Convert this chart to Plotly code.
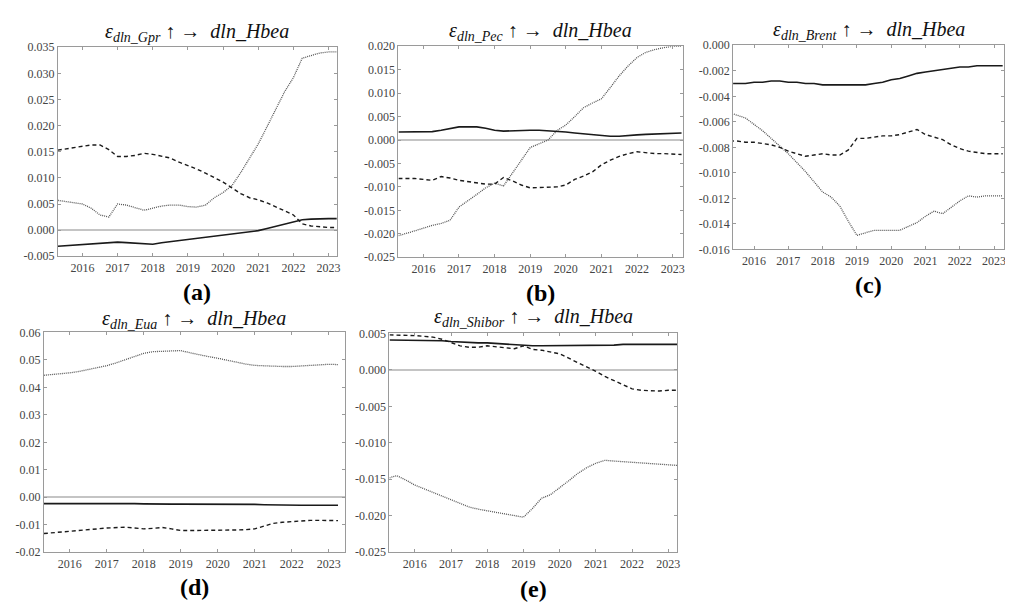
import plotly.graph_objects as go

# ---------------- data ----------------
t = [2015.3, 2015.5, 2015.75, 2016.0, 2016.25, 2016.5, 2016.75, 2017.0, 2017.25, 2017.5, 2017.75,
     2018.0, 2018.25, 2018.5, 2018.75, 2019.0, 2019.25, 2019.5, 2019.75, 2020.0, 2020.25, 2020.5,
     2020.75, 2021.0, 2021.25, 2021.5, 2021.75, 2022.0, 2022.25, 2022.5, 2022.75, 2023.0, 2023.25]

years = [2016, 2017, 2018, 2019, 2020, 2021, 2022, 2023]

# (a) Gpr
a_solid = [-0.0031, -0.0030, -0.0029, -0.0028, -0.0026, -0.0025, -0.0024, -0.0023, -0.0024, -0.0025, -0.0027,
           -0.0027, -0.0024, -0.0022, -0.0020, -0.0018, -0.0015, -0.0013, -0.0011, -0.0009, -0.0007, -0.0005,
           -0.0003, -0.0001, 0.0003, 0.0007, 0.0011, 0.0015, 0.0020, 0.0021, 0.0022, 0.0022, 0.0022]
a_dash = [0.0153, 0.0155, 0.0158, 0.0161, 0.0163, 0.0163, 0.0154, 0.0141, 0.0141, 0.0143, 0.0147,
          0.0145, 0.0141, 0.0138, 0.0130, 0.0124, 0.0117, 0.0109, 0.0100, 0.0092, 0.0081, 0.0070,
          0.0062, 0.0058, 0.0052, 0.0045, 0.0037, 0.0029, 0.0012, 0.0008, 0.0006, 0.0005, 0.0005]
a_dot = [0.0057, 0.0055, 0.0053, 0.0050, 0.0042, 0.0029, 0.0025, 0.0050, 0.0048, 0.0043, 0.0038,
         0.0042, 0.0046, 0.0048, 0.0048, 0.0045, 0.0044, 0.0048, 0.0062, 0.0072, 0.0085, 0.0110,
         0.0138, 0.0165, 0.0198, 0.0233, 0.0265, 0.0292, 0.0329, 0.0334, 0.0339, 0.0341, 0.0341]

# (b) Pec
b_solid = [0.0017, 0.0017, 0.0017, 0.0017, 0.0018, 0.0021, 0.0025, 0.0028, 0.0028, 0.0028, 0.0025,
           0.0021, 0.0019, 0.0020, 0.0021, 0.0021, 0.0021, 0.0020, 0.0018, 0.0017, 0.0015, 0.0013,
           0.0011, 0.0009, 0.0008, 0.0008, 0.0010, 0.0011, 0.0012, 0.0013, 0.0014, 0.0015, 0.0015]
b_dash = [-0.0082, -0.0082, -0.0082, -0.0084, -0.0086, -0.0078, -0.0081, -0.0086, -0.0089, -0.0091, -0.0094,
          -0.0094, -0.0080, -0.0087, -0.0096, -0.0102, -0.0101, -0.0101, -0.0100, -0.0096, -0.0084, -0.0077,
          -0.0068, -0.0053, -0.0043, -0.0035, -0.0029, -0.0025, -0.0027, -0.0029, -0.0029, -0.0030, -0.0031]
b_dot = [-0.0204, -0.0200, -0.0194, -0.0188, -0.0182, -0.0178, -0.0171, -0.0143, -0.0130, -0.0116, -0.0102,
         -0.0092, -0.0098, -0.0070, -0.0042, -0.0016, -0.0008, 0.0000, 0.0020, 0.0032, 0.0050, 0.0069,
         0.0079, 0.0088, 0.0112, 0.0137, 0.0158, 0.0176, 0.0187, 0.0193, 0.0197, 0.0200, 0.0200]

# (c) Brent
c_solid = [-0.0030, -0.0030, -0.0030, -0.0029, -0.0029, -0.0028, -0.0028, -0.0029, -0.0029, -0.0030, -0.0030,
           -0.0031, -0.0031, -0.0031, -0.0031, -0.0031, -0.0031, -0.0030, -0.0029, -0.0027, -0.0026, -0.0024,
           -0.0022, -0.0021, -0.0020, -0.0019, -0.0018, -0.0017, -0.0017, -0.0016, -0.0016, -0.0016, -0.0016]
c_dash = [-0.0075, -0.0075, -0.0076, -0.0076, -0.0077, -0.0078, -0.0080, -0.0083, -0.0085, -0.0087, -0.0086,
          -0.0085, -0.0086, -0.0086, -0.0082, -0.0073, -0.0073, -0.0072, -0.0071, -0.0071, -0.0070, -0.0068,
          -0.0066, -0.0070, -0.0072, -0.0074, -0.0078, -0.0081, -0.0083, -0.0084, -0.0085, -0.0085, -0.0085]
c_dot = [-0.0053, -0.0055, -0.0057, -0.0062, -0.0067, -0.0073, -0.0079, -0.0085, -0.0092, -0.0099, -0.0107,
         -0.0115, -0.0119, -0.0126, -0.0138, -0.0149, -0.0147, -0.0145, -0.0145, -0.0145, -0.0145, -0.0142,
         -0.0139, -0.0134, -0.0130, -0.0132, -0.0127, -0.0122, -0.0118, -0.0119, -0.0118, -0.0118, -0.0118]

# (d) Eua
d_solid = [-0.0023, -0.0023, -0.0023, -0.0023, -0.0023, -0.0023, -0.0022, -0.0022, -0.0021, -0.0022, -0.0023,
           -0.0024, -0.0025, -0.0025, -0.0025, -0.0025, -0.0025, -0.0024, -0.0024, -0.0024, -0.0024, -0.0025,
           -0.0025, -0.0026, -0.0027, -0.0028, -0.0028, -0.0029, -0.0029, -0.0029, -0.0029, -0.0029, -0.0029]
d_dash = [-0.0132, -0.0130, -0.0127, -0.0124, -0.0121, -0.0118, -0.0115, -0.0112, -0.0110, -0.0109, -0.0112,
          -0.0115, -0.0113, -0.0110, -0.0115, -0.0121, -0.0121, -0.0121, -0.0121, -0.0121, -0.0120, -0.0119,
          -0.0118, -0.0115, -0.0105, -0.0095, -0.0091, -0.0088, -0.0086, -0.0084, -0.0084, -0.0084, -0.0085]
d_dot = [0.0444, 0.0446, 0.0449, 0.0453, 0.0458, 0.0465, 0.0471, 0.0479, 0.0489, 0.0500, 0.0512,
         0.0524, 0.0530, 0.0532, 0.0533, 0.0534, 0.0526, 0.0518, 0.0512, 0.0506, 0.0499, 0.0491,
         0.0485, 0.0480, 0.0478, 0.0476, 0.0476, 0.0476, 0.0478, 0.0480, 0.0482, 0.0484, 0.0483]

# (e) Shibor
e_solid = [0.0041, 0.0041, 0.0041, 0.0041, 0.0040, 0.0040, 0.0040, 0.0039, 0.0038, 0.0037, 0.0037,
           0.0037, 0.0036, 0.0035, 0.0035, 0.0034, 0.0033, 0.0033, 0.0033, 0.0033, 0.0033, 0.0033,
           0.0033, 0.0033, 0.0034, 0.0034, 0.0035, 0.0035, 0.0036, 0.0036, 0.0036, 0.0035, 0.0035]
e_dash = [0.0048, 0.0048, 0.0048, 0.0047, 0.0046, 0.0045, 0.0042, 0.0037, 0.0033, 0.0031, 0.0031,
          0.0033, 0.0032, 0.0030, 0.0029, 0.0033, 0.0028, 0.0027, 0.0025, 0.0022, 0.0016, 0.0010,
          0.0005, -0.0002, -0.0009, -0.0015, -0.0021, -0.0026, -0.0028, -0.0029, -0.0029, -0.0028, -0.0028]
e_dot = [-0.0148, -0.0145, -0.0151, -0.0158, -0.0163, -0.0168, -0.0173, -0.0178, -0.0183, -0.0188, -0.0191,
         -0.0193, -0.0195, -0.0197, -0.0199, -0.0202, -0.0190, -0.0176, -0.0171, -0.0162, -0.0152, -0.0142,
         -0.0134, -0.0128, -0.0124, -0.0125, -0.0126, -0.0127, -0.0128, -0.0129, -0.0130, -0.0130, -0.0131]

shocks = ["Gpr", "Pec", "Brent", "Eua", "Shibor"]
panel_labels = ["(a)", "(b)", "(c)", "(d)", "(e)"]
series = [(a_solid, a_dash, a_dot), (b_solid, b_dash, b_dot), (c_solid, c_dash, c_dot),
          (d_solid, d_dash, d_dot), (e_solid, e_dash, e_dot)]
y_ticks = [
    [-0.005, 0.000, 0.005, 0.010, 0.015, 0.020, 0.025, 0.030, 0.035],
    [-0.025, -0.020, -0.015, -0.010, -0.005, 0.000, 0.005, 0.010, 0.015, 0.020],
    [-0.016, -0.014, -0.012, -0.010, -0.008, -0.006, -0.004, -0.002, 0.000],
    [-0.02, -0.01, 0.00, 0.01, 0.02, 0.03, 0.04, 0.05, 0.06],
    [-0.025, -0.020, -0.015, -0.010, -0.005, 0.000, 0.005],
]
y_decimals = [3, 3, 3, 2, 3]

# ---------------- layout geometry (pixels) ----------------
W, H = 1013, 602
boxes = [  # x0, x1, y0(top), y1(bottom)
    (50, 330, 33, 247),
    (392, 678, 32, 248),
    (728, 1000, 31, 240),
    (36, 338, 325, 550),
    (383, 672, 326, 550),
]
x_ranges = [(2015.3, 2023.23), (2015.3, 2023.3), (2015.39, 2023.29), (2015.3, 2023.43), (2015.3, 2023.25)]
title_y = [18, 17, 16, 312, 310]
label_y = [284, 285, 276, 586, 588]

SERIF = "'Liberation Serif', 'DejaVu Serif', serif"
FRAME = "#9a9a9a"

fig = go.Figure()
layout = dict(width=W, height=H, margin=dict(l=0, r=0, t=0, b=0),
              paper_bgcolor="white", plot_bgcolor="white", showlegend=False)
annotations = []

for i in range(5):
    xa = "x" if i == 0 else f"x{i+1}"
    ya = "y" if i == 0 else f"y{i+1}"
    solid, dash, dot = series[i]
    fig.add_trace(go.Scatter(x=t, y=dot, mode="lines", xaxis=xa, yaxis=ya,
                             line=dict(color="#555555", width=1.3, dash="1px,1px")))
    fig.add_trace(go.Scatter(x=t, y=dash, mode="lines", xaxis=xa, yaxis=ya,
                             line=dict(color="#1a1a1a", width=1.4, dash="4px,3px")))
    fig.add_trace(go.Scatter(x=t, y=solid, mode="lines", xaxis=xa, yaxis=ya,
                             line=dict(color="#1a1a1a", width=1.6)))

    x0, x1, y0, y1 = boxes[i]
    xkey = "xaxis" if i == 0 else f"xaxis{i+1}"
    ykey = "yaxis" if i == 0 else f"yaxis{i+1}"
    layout[xkey] = dict(domain=[x0 / W, x1 / W], range=list(x_ranges[i]), anchor=ya,
                        tickvals=years, ticktext=[str(v) for v in years],
                        showgrid=False, zeroline=False, showline=True, mirror="ticks",
                        linecolor=FRAME, linewidth=1, ticks="inside", ticklen=3, tickcolor=FRAME,
                        tickfont=dict(family=SERIF, size=12, color="#444"))
    fmt = "{:.%df}" % y_decimals[i]
    layout[ykey] = dict(domain=[1 - y1 / H, 1 - y0 / H],
                        range=[y_ticks[i][0], y_ticks[i][-1]], anchor=xa,
                        tickvals=y_ticks[i], ticktext=[fmt.format(v) for v in y_ticks[i]],
                        showgrid=False, zeroline=True, zerolinecolor="#c4c4c4", zerolinewidth=1.5,
                        showline=True, mirror="ticks",
                        linecolor=FRAME, linewidth=1, ticks="inside", ticklen=3, tickcolor=FRAME,
                        tickfont=dict(family=SERIF, size=12, color="#444"))

    cx = (x0 + x1) / 2 / W
    annotations.append(dict(
        x=cx, y=1 - title_y[i] / H, xref="paper", yref="paper", showarrow=False,
        xanchor="center", yanchor="middle",
        text=f"<i>ε</i><sub><i>dln_{shocks[i]}</i></sub> ↑ →  <i>dln_Hbea</i>",
        font=dict(family=SERIF, size=20, color="#111")))
    annotations.append(dict(
        x=cx, y=1 - label_y[i] / H, xref="paper", yref="paper", showarrow=False,
        xanchor="center", yanchor="middle",
        text=f"<b>{panel_labels[i]}</b>",
        font=dict(family=SERIF, size=24, color="#000")))

layout["annotations"] = annotations
fig.update_layout(**layout)
fig.write_html("out.html")
